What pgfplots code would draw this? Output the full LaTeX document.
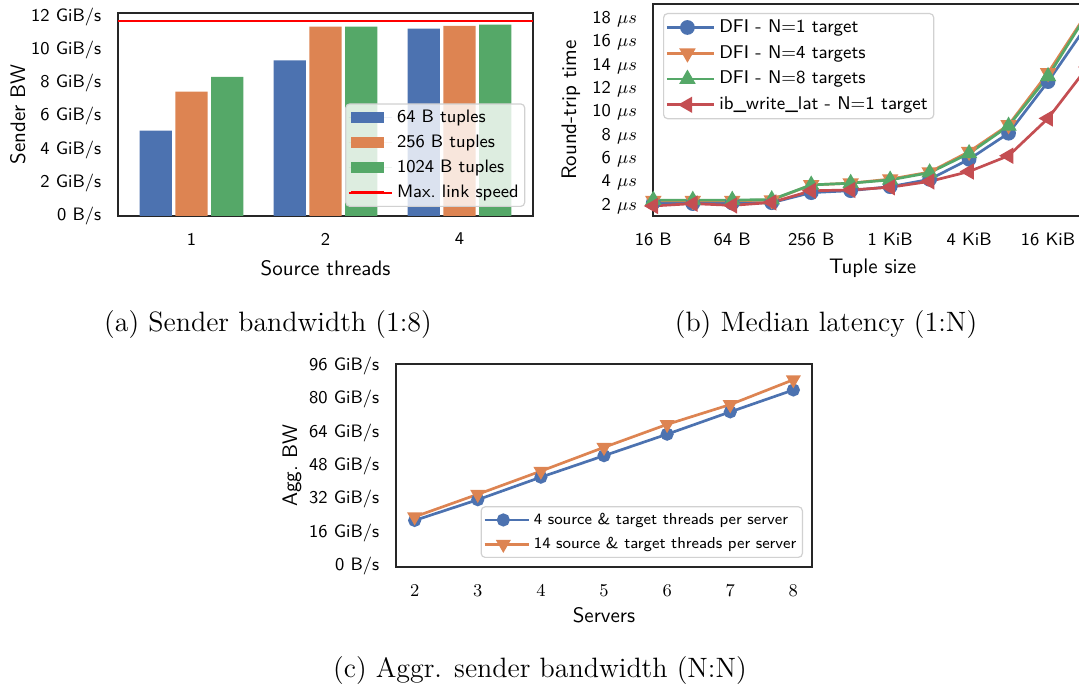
\documentclass[border=0pt]{standalone}
\usepackage{fontspec}
\usepackage{pgfplots}
\pgfplotsset{compat=1.18}

\definecolor{sbblue}{HTML}{4C72B0}
\definecolor{sborange}{HTML}{DD8452}
\definecolor{sbgreen}{HTML}{55A868}
\definecolor{sbred}{HTML}{C44E52}

\pgfplotsset{
  sbstyle/.style={
    scale only axis,
    axis line style={black!85, line width=1pt},
    tick style={draw=none},
    major tick length=0pt,
    tick label style={font=\sffamily\fontsize{9}{10}\selectfont},
    label style={font=\sffamily\fontsize{10.5}{12}\selectfont},
    yticklabel style={anchor=east, inner sep=0pt, xshift=-8pt},
    xticklabel style={anchor=center, inner sep=0pt, yshift=-11.5pt},
    legend cell align=left,
    legend style={draw=black!18, line width=0.6pt, fill=white, fill opacity=0.8, text opacity=1,
      draw opacity=1, rounded corners=2pt, inner sep=1pt,
      font=\sffamily\fontsize{9}{10}\selectfont},
  },
  barleg/.style={legend image code/.code={
      \path (-1pt,0pt) -- (20.5pt,0pt);
      \fill[#1, sharp corners, fill opacity=1] (0pt,-2.6pt) rectangle (16.5pt,2.6pt);}},
  lineleg/.style={legend image code/.code={
      \path (-0.5pt,0pt) -- (23pt,0pt);
      \draw[sharp corners, mark repeat=2, mark phase=2, ##1, line width=1.35pt, fill opacity=1]
      plot coordinates {(0pt,0pt) (9.75pt,0pt) (19.5pt,0pt)};}},
  linelegc/.style={legend image code/.code={
      \path (-0.5pt,0pt) -- (21.5pt,0pt);
      \draw[sharp corners, mark repeat=2, mark phase=2, ##1, line width=1.35pt, fill opacity=1]
      plot coordinates {(0pt,0pt) (8.9pt,0pt) (17.8pt,0pt)};}},
}

\begin{document}
\begin{tikzpicture}

% (a) sender bandwidth
\begin{axis}[sbstyle, at={(58.85pt,236pt)}, anchor=south west,
  width=207.8pt, height=101.35pt,
  xmin=-0.55, xmax=2.55, ymin=0, ymax=12.2,
  xtick={0,1,2}, xticklabels={1,2,4},
  ytick={0,2,4,6,8,10,12},
  yticklabels={0 B/s,2 GiB/s,4 GiB/s,6 GiB/s,8 GiB/s,10 GiB/s,12 GiB/s},
  xlabel={Source threads}, ylabel={Sender BW},
  xlabel style={at={(axis description cs:0.5,-0.257)}, anchor=center},
  ylabel style={at={(axis description cs:-0.24,0.5)}, anchor=center},
  legend style={at={(1,0)}, anchor=south east, xshift=-4pt, yshift=4.5pt, row sep=0.75pt},
]
\addplot[ybar, bar width=0.241, bar shift=-0.2667, fill=sbblue, draw=none, barleg=sbblue]
  coordinates {(0,5.14) (1,9.37) (2,11.28)};
\addplot[ybar, bar width=0.241, bar shift=0, fill=sborange, draw=none, barleg=sborange]
  coordinates {(0,7.49) (1,11.40) (2,11.44)};
\addplot[ybar, bar width=0.241, bar shift=0.2667, fill=sbgreen, draw=none, barleg=sbgreen]
  coordinates {(0,8.38) (1,11.40) (2,11.52)};
\addplot[red, line width=1.1pt,
  legend image code/.code={\path (-1pt,0pt) -- (20.5pt,0pt);
    \draw[red, line width=1.5pt, draw opacity=1] (0pt,0pt) -- (16.5pt,0pt);}]
  coordinates {(-0.55,11.72) (2.55,11.72)};
\legend{64 B tuples, 256 B tuples, 1024 B tuples, Max.\ link speed}
\end{axis}

% (b) median latency
\begin{axis}[sbstyle, at={(326.65pt,236pt)}, anchor=south west,
  width=217.1pt, height=106pt,
  xmode=log, log basis x=2, xmin=16, xmax=32768, ymin=1.14, ymax=19.3,
  xtick={16,64,256,1024,4096,16384},
  xticklabels={16 B,64 B,256 B,1 KiB,4 KiB,16 KiB},
  ytick={2,4,6,8,10,12,14,16,18},
  yticklabels={2 $\mu s$,4 $\mu s$,6 $\mu s$,8 $\mu s$,10 $\mu s$,12 $\mu s$,14 $\mu s$,16 $\mu s$,18 $\mu s$},
  xlabel={Tuple size}, ylabel={Round-trip time},
  xlabel style={at={(axis description cs:0.505,-0.245)}, anchor=center},
  ylabel style={at={(axis description cs:-0.19,0.5)}, anchor=center},
  legend style={at={(0,1)}, anchor=north west, xshift=4.85pt, yshift=-4.5pt, row sep=1pt,
    font=\sffamily\fontsize{9.2}{10}\selectfont},
  lineleg,
  every axis plot/.append style={line width=1.35pt},
]
\addplot[sbblue, mark=*, mark size=3pt] coordinates {
  (16,2.28) (32,2.2) (64,2.25) (128,2.28) (256,3.14) (512,3.31) (1024,3.65)
  (2048,4.28) (4096,6.0) (8192,8.23) (16384,12.65) (32768,17.55)};
\addplot[sborange, mark=triangle*, mark size=3.4pt, mark options={rotate=180}] coordinates {
  (16,2.45) (32,2.45) (64,2.45) (128,2.5) (256,3.8) (512,3.95) (1024,4.3)
  (2048,4.9) (4096,6.65) (8192,8.94) (16384,13.4) (32768,18.6)};
\addplot[sbgreen, mark=triangle*, mark size=3.4pt] coordinates {
  (16,2.5) (32,2.5) (64,2.5) (128,2.55) (256,3.8) (512,3.95) (1024,4.23)
  (2048,4.85) (4096,6.5) (8192,8.85) (16384,13.1) (32768,18.5)};
\addplot[sbred, mark=triangle*, mark size=3.4pt, mark options={rotate=90}] coordinates {
  (16,2.0) (32,2.2) (64,2.05) (128,2.3) (256,3.3) (512,3.37) (1024,3.6)
  (2048,4.1) (4096,4.95) (8192,6.3) (16384,9.5) (32768,13.9)};
\legend{DFI - N=1 target, DFI - N=4 targets, DFI - N=8 targets, ib\_write\_lat - N=1 target}
\end{axis}

% (c) aggregated sender bandwidth
\begin{axis}[sbstyle, at={(197.85pt,60.35pt)}, anchor=south west,
  width=208.3pt, height=101.5pt,
  xmin=1.7, xmax=8.3, ymin=-0.5, ymax=96.8,
  xtick={2,3,4,5,6,7,8},
  xticklabel style={font=\fontsize{9}{10}\selectfont},
  ytick={0,16,32,48,64,80,96},
  yticklabels={0 B/s,16 GiB/s,32 GiB/s,48 GiB/s,64 GiB/s,80 GiB/s,96 GiB/s},
  xlabel={Servers}, ylabel={Agg.\ BW},
  xlabel style={at={(axis description cs:0.5,-0.235)}, anchor=center},
  ylabel style={at={(axis description cs:-0.249,0.5)}, anchor=center},
  legend style={at={(1,0)}, anchor=south east, xshift=-4.65pt, yshift=4.65pt, row sep=1pt,
    font=\sffamily\fontsize{7.9}{9}\selectfont},
  linelegc,
  every axis plot/.append style={line width=1.35pt},
]
\addplot[sbblue, mark=*, mark size=2.6pt] coordinates {
  (2,21.97) (3,31.9) (4,42.7) (5,53.0) (6,63.3) (7,74.0) (8,84.5)};
\addplot[sborange, mark=triangle*, mark size=3pt, mark options={rotate=180}] coordinates {
  (2,23.7) (3,34.5) (4,45.6) (5,57.0) (6,68.0) (7,77.5) (8,89.4)};
\legend{4 source \& target threads per server, 14 source \& target threads per server}
\end{axis}

\node[anchor=base, font=\fontsize{14}{16}\selectfont] at (134pt,178.2pt) {(a) Sender bandwidth (1:8)};
\node[anchor=base, font=\fontsize{14}{16}\selectfont] at (413pt,178.2pt) {(b) Median latency (1:N)};
\node[anchor=base, font=\fontsize{14}{16}\selectfont] at (270pt,5pt) {(c) Aggr. sender bandwidth (N:N)};

\pgfresetboundingbox
\path[use as bounding box] (0pt,0pt) rectangle (539.5pt,344pt);
\end{tikzpicture}
\end{document}
